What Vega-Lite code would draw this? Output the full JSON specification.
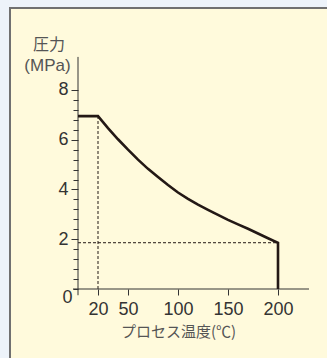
{
  "$schema": "https://vega.github.io/schema/vega-lite/v6.json",
  "width": 319,
  "height": 352,
  "autosize": {"type": "none"},
  "padding": {"left": 10, "top": 8, "right": 0, "bottom": 0},
  "background": "#edf3fa",
  "title": {
    "text": "圧力",
    "anchor": "start",
    "orient": "top",
    "frame": "group",
    "baseline": "top",
    "offset": 0,
    "dx": 23,
    "dy": 45,
    "font": "Noto Sans CJK JP",
    "fontSize": 16,
    "fontWeight": "normal",
    "color": "#555"
  },
  "config": {"view": {"fill": "#fffadc", "stroke": "#707070", "strokeWidth": 2}},
  "datasets": {
    "curve": [
      {"i": 0, "x": 0, "y": 6.95},
      {"i": 1, "x": 20, "y": 6.95},
      {"i": 2, "x": 30, "y": 6.47},
      {"i": 3, "x": 40, "y": 6.02},
      {"i": 4, "x": 50, "y": 5.6},
      {"i": 5, "x": 60, "y": 5.2},
      {"i": 6, "x": 70, "y": 4.83},
      {"i": 7, "x": 80, "y": 4.5},
      {"i": 8, "x": 90, "y": 4.18},
      {"i": 9, "x": 100, "y": 3.88},
      {"i": 10, "x": 110, "y": 3.62},
      {"i": 11, "x": 120, "y": 3.39},
      {"i": 12, "x": 130, "y": 3.18},
      {"i": 13, "x": 140, "y": 2.98},
      {"i": 14, "x": 150, "y": 2.78},
      {"i": 15, "x": 160, "y": 2.6},
      {"i": 16, "x": 170, "y": 2.42},
      {"i": 17, "x": 180, "y": 2.23},
      {"i": 18, "x": 190, "y": 2.04},
      {"i": 19, "x": 200, "y": 1.86},
      {"i": 20, "x": 200, "y": 0}
    ],
    "dotted": [
      {"x": 20, "y": 0, "x2": 20, "y2": 6.95},
      {"x": 0, "y": 1.86, "x2": 200, "y2": 1.86}
    ],
    "axes": [
      {"x": -5, "y": 0, "x2": 231, "y2": 0},
      {"x": 0, "y": -0.25, "x2": 0, "y2": 9.33}
    ]
  },
  "encoding": {
    "x": {
      "field": "x",
      "type": "quantitative",
      "scale": {"domain": [-68, 251], "nice": false, "zero": false},
      "axis": {
        "values": [20, 50, 100, 150, 200],
        "offset": -71,
        "domain": false,
        "grid": false,
        "tickSize": 6,
        "tickColor": "#333",
        "labelFontSize": 18,
        "labelFont": "Liberation Sans",
        "labelColor": "#333",
        "labelPadding": 5,
        "labelOverlap": false,
        "labelFlush": false,
        "title": "プロセス温度(℃)",
        "titleFont": "Noto Sans CJK JP",
        "titleFontSize": 15,
        "titleFontWeight": "normal",
        "titleColor": "#555",
        "titleX": 168,
        "titleY": 42,
        "titleAlign": "center",
        "titleBaseline": "middle"
      }
    },
    "y": {
      "field": "y",
      "type": "quantitative",
      "scale": {"domain": [-2.854, 11.296], "nice": false, "zero": false},
      "axis": {
        "values": [0, 0.4, 0.8, 1.2, 1.6, 2, 2.4, 2.8, 3.2, 3.6, 4, 4.4, 4.8, 5.2, 5.6, 6, 6.4, 6.8, 7.2, 7.6, 8],
        "offset": -68,
        "domain": false,
        "grid": false,
        "tickSize": {"condition": {"test": "datum.value % 2 === 0 && datum.value > 0", "value": 7}, "value": 5},
        "tickColor": "#333",
        "labelExpr": "datum.value % 2 === 0 ? format(datum.value, 'd') : ''",
        "labelFontSize": 18,
        "labelFont": "Liberation Sans",
        "labelColor": "#333",
        "labelOverlap": false,
        "labelFlush": false,
        "labelPadding": {"condition": {"test": "datum.value === 0", "value": 1}, "value": 3},
        "labelOffset": {"condition": {"test": "datum.value === 0", "value": 8}, "value": 0},
        "title": "(MPa)",
        "titleAngle": 0,
        "titleX": -31,
        "titleY": 49,
        "titleAlign": "center",
        "titleBaseline": "top",
        "titleFont": "Liberation Sans",
        "titleFontSize": 17,
        "titleFontWeight": "normal",
        "titleColor": "#555"
      }
    }
  },
  "layer": [
    {
      "data": {"name": "dotted"},
      "mark": {"type": "rule", "color": "#231815", "strokeWidth": 1, "strokeDash": [3, 2]},
      "encoding": {"x2": {"field": "x2"}, "y2": {"field": "y2"}}
    },
    {
      "data": {"name": "axes"},
      "mark": {"type": "rule", "color": "#333", "strokeWidth": 1},
      "encoding": {"x2": {"field": "x2"}, "y2": {"field": "y2"}}
    },
    {
      "data": {"name": "curve"},
      "mark": {"type": "line", "color": "#231815", "strokeWidth": 2.6},
      "encoding": {"order": {"field": "i", "type": "quantitative"}}
    }
  ]
}
